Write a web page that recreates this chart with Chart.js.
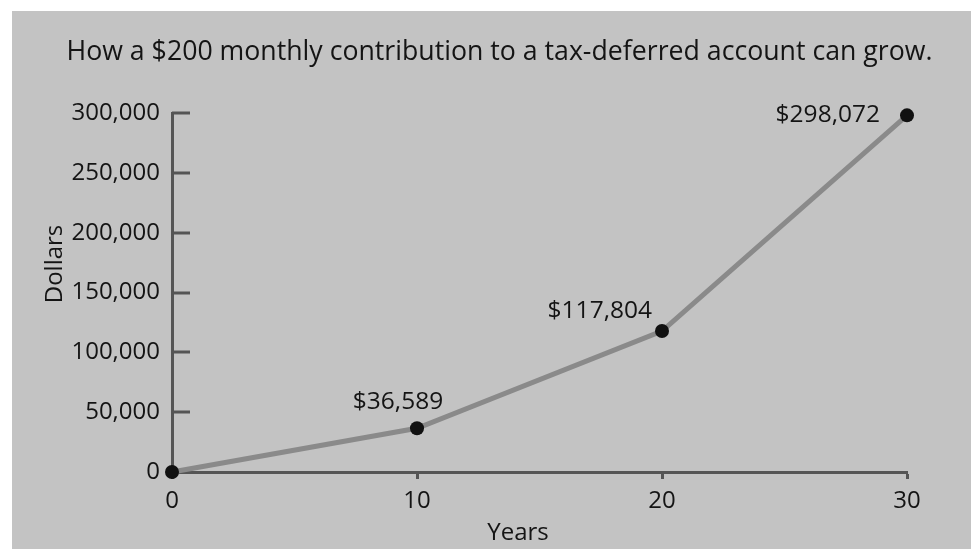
<!DOCTYPE html>
<html>
<head>
<meta charset="utf-8">
<script src="https://cdn.jsdelivr.net/npm/chart.js@4.4.1/dist/chart.umd.min.js"></script>
<style>
  html, body { margin: 0; padding: 0; background: #fff; }
  #box { position: absolute; left: 12px; top: 11px; width: 959px; height: 538px; background: #c3c3c3; }
</style>
</head>
<body>
<div id="box"><canvas id="myCanvas" width="959" height="538"></canvas></div>
<script>
const years = [0, 10, 20, 30];
const balances = [0, 36589, 117804, 298072];
const yTicks = [0, 50000, 100000, 150000, 200000, 250000, 300000];
const xTicks = [0, 10, 20, 30];
const titleText = 'How a $200 monthly contribution to a tax-deferred account can grow.';
const xTitle = 'Years';
const yTitle = 'Dollars';

const FONT = '"Open Sans", "Noto Sans", sans-serif';
const INK = '#141414';
const AXIS = '#555';

// value labels next to the points (index -> placement)
const labelPlace = {
   1: { align: 'center', dx: -19, dy: -26 },
   2: { align: 'right', dx: -10, dy: -20 },
   3: { align: 'right', dx: -27, dy: 0 }
};

const extras = {
   id: 'extras',
   afterDatasetsDraw(chart) {
      const ctx = chart.ctx;
      const y = chart.scales.y;
      ctx.save();
      // short inward ticks on the y axis
      ctx.strokeStyle = AXIS;
      ctx.lineWidth = 3;
      yTicks.forEach(v => {
         if (v === 0) return;
         const py = Math.round(y.getPixelForValue(v));
         ctx.beginPath();
         ctx.moveTo(y.right, py);
         ctx.lineTo(y.right + 18, py);
         ctx.stroke();
      });
      ctx.restore();
   },
   afterDraw(chart) {
      const ctx = chart.ctx;
      const meta = chart.getDatasetMeta(0);
      ctx.save();
      ctx.fillStyle = INK;
      ctx.font = '24.5px ' + FONT;
      ctx.textBaseline = 'middle';
      meta.data.forEach((pt, i) => {
         const p = labelPlace[i];
         if (!p) return;
         ctx.textAlign = p.align;
         ctx.fillText('$' + balances[i].toLocaleString('en-US'), pt.x + p.dx, pt.y + p.dy);
      });
      // axis titles
      ctx.font = '24px ' + FONT;
      ctx.textAlign = 'center';
      ctx.fillText(xTitle, 506, 522);
      ctx.translate(43, 253);
      ctx.rotate(-Math.PI / 2);
      ctx.fillText(yTitle, 0, 0);
      ctx.restore();
   }
};

const ctx = document.getElementById('myCanvas').getContext('2d');

new Chart(ctx, {
   type: 'line',
   data: {
      datasets: [{
         data: years.map((yr, i) => ({ x: yr, y: balances[i] })),
         borderColor: '#8a8a8a',
         borderWidth: 5,
         pointRadius: 7,
         pointBackgroundColor: '#111',
         pointBorderWidth: 0,
         tension: 0,
         clip: false
      }]
   },
   options: {
      responsive: false,
      animation: false,
      layout: { padding: { left: 16, right: 0, top: 0, bottom: 0 } },
      plugins: {
         legend: { display: false },
         tooltip: { enabled: false },
         title: {
            display: true,
            text: titleText,
            color: INK,
            font: { family: FONT, size: 26.7, weight: 'normal' },
            padding: { top: 25, bottom: 45 }
         }
      },
      scales: {
         x: {
            type: 'linear',
            min: 0,
            max: 30,
            afterBuildTicks: s => { s.ticks = xTicks.map(v => ({ value: v })); },
            afterFit: s => { s.height = 77; },
            border: { color: AXIS, width: 3 },
            grid: { drawOnChartArea: false, drawTicks: true, tickLength: 7, tickWidth: 3, tickColor: AXIS },
            ticks: { color: INK, font: { family: FONT, size: 24 }, padding: 8, maxRotation: 0 }
         },
         y: {
            min: 0,
            max: 300000,
            afterBuildTicks: s => { s.ticks = yTicks.map(v => ({ value: v })); },
            afterFit: s => { s.width = 144; },
            border: { color: AXIS, width: 3 },
            grid: { drawOnChartArea: false, drawTicks: false },
            ticks: {
               color: INK,
               font: { family: FONT, size: 24 },
               padding: 12,
               callback: v => v.toLocaleString('en-US')
            }
         },
         // empty right-hand axis, only keeps the plot clear of the right edge
         right: {
            position: 'right',
            min: 0,
            max: 300000,
            afterFit: s => { s.width = 64; },
            border: { display: false },
            grid: { display: false },
            ticks: { display: false }
         }
      }
   },
   plugins: [extras]
});
</script>
</body>
</html>
